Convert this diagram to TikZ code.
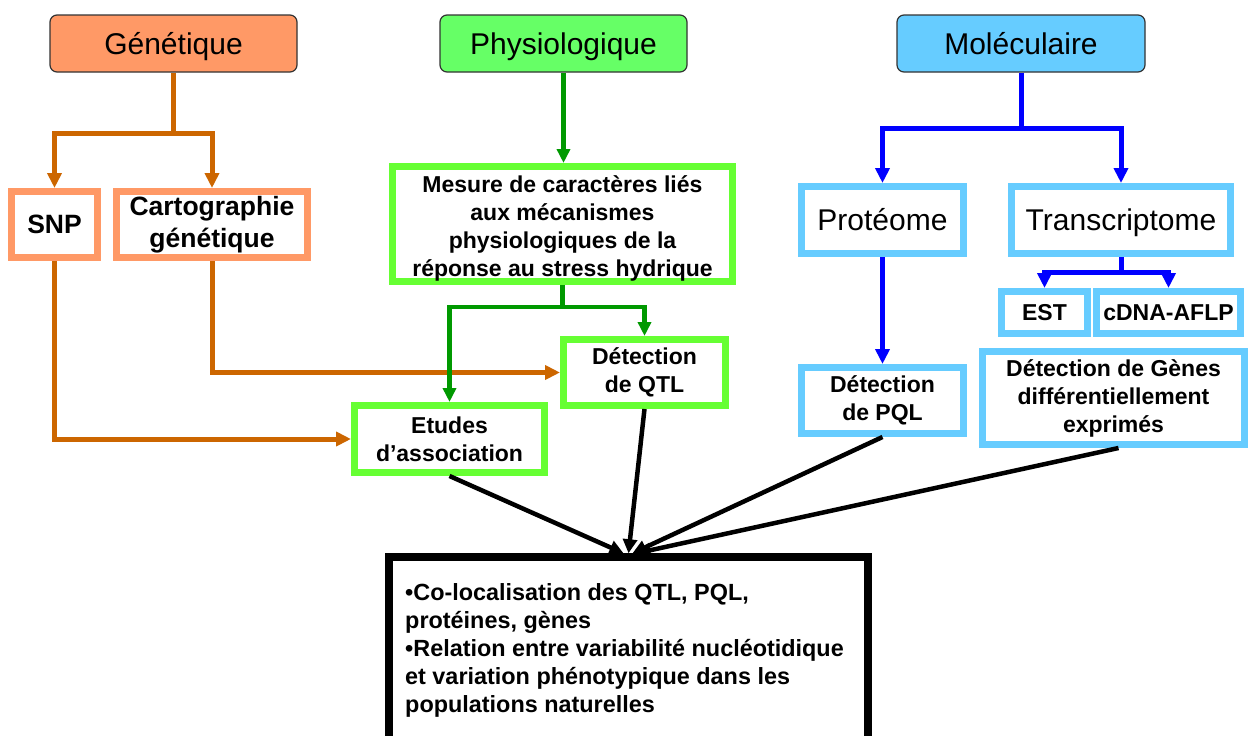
\documentclass[tikz,border=0pt]{standalone}
\usepackage{fontspec}
\setmainfont{Liberation Sans}
\usetikzlibrary{arrows.meta}
\definecolor{orfill}{HTML}{FF9966}
\definecolor{orline}{HTML}{CC6600}
\definecolor{grfill}{HTML}{66FF66}
\definecolor{grbd}{HTML}{66FF33}
\definecolor{grline}{HTML}{009900}
\definecolor{blfill}{HTML}{66CCFF}
\definecolor{blline}{HTML}{0000FF}
\begin{document}
\begin{tikzpicture}[x=1pt,y=-1pt,
  hdr/.style={draw=black!80, line width=1.2pt, rounded corners=7pt, inner sep=0pt,
              text height=22pt, text depth=0pt,
              font=\fontsize{30}{36}\selectfont},
  boxbase/.style={line width=7pt, fill=white, inner sep=0pt, align=center},
  obox/.style={boxbase, draw=orfill, font=\bfseries\fontsize{26.5}{32}\selectfont},
  gbox/.style={boxbase, draw=grbd, font=\bfseries\fontsize{23}{28}\selectfont},
  bboxr/.style={boxbase, draw=blfill, text height=21pt, text depth=0pt, font=\fontsize{30}{36}\selectfont},
  bbox/.style={boxbase, draw=blfill, font=\bfseries\fontsize{23}{28}\selectfont},
  rbox/.style={draw=black, line width=7.5pt, fill=white, inner sep=0pt},
  txt/.style={inner sep=0pt, font=\bfseries\fontsize{23.4}{28.2}\selectfont},
  oline/.style={draw=orline, line width=5pt},
  oarr/.style={oline, -{Triangle[length=15pt,width=14pt]}},
  gline/.style={draw=grline, line width=4.5pt},
  garr/.style={gline, -{Triangle[length=14pt,width=13pt]}},
  bline/.style={draw=blline, line width=5pt},
  barr/.style={bline, -{Triangle[length=15pt,width=14pt]}},
  karr/.style={draw=black, line width=4.5pt, -{Triangle[length=14pt,width=14pt]}}
]
\fill[white] (0,0) rectangle (1248,736);
\useasboundingbox (0,0) rectangle (1248,736);

% headers
\node[hdr, fill=orfill, minimum width=247pt, minimum height=57pt] (gen) at (173.5,43.5) {Génétique};
\node[hdr, fill=grfill, minimum width=247pt, minimum height=57pt] (phy) at (563.5,43.5) {Physiologique};
\node[hdr, fill=blfill, minimum width=248pt, minimum height=57pt] (mol) at (1021,43.5) {Moléculaire};

% genetic boxes
\node[obox, minimum width=86pt, minimum height=66pt] (snp) at (54.5,224.5) {SNP};
\node[obox, minimum width=191pt, minimum height=66pt] (carto) at (212,224.5) {Cartographie\\génétique};

% physiological boxes
\node[gbox, minimum width=340pt, minimum height=115pt] (mes) at (562.5,224) {};
\node[txt, font=\bfseries\fontsize{23}{28}\selectfont, align=center] (mest) at (562.5,228)
  {Mesure de caractères liés\\aux mécanismes\\physiologiques de la\\réponse au stress hydrique};
\node[gbox, minimum width=162pt, minimum height=66pt] (qtl) at (644.5,372.5) {Détection\\de QTL};
\node[gbox, minimum width=190pt, minimum height=67pt] (etu) at (449.5,439) {Etudes\\d’association};

% molecular boxes
\node[bboxr, minimum width=162pt, minimum height=67pt] (prot) at (882.5,220) {Protéome};
\node[bboxr, minimum width=219pt, minimum height=67pt] (trans) at (1121,220) {Transcriptome};
\node[bbox, minimum width=86pt, minimum height=42pt] (est) at (1044.5,312.5) {EST};
\node[bbox, minimum width=144pt, minimum height=42pt] (cdna) at (1168.5,312.5) {cDNA-AFLP};
\node[bbox, minimum width=262pt, minimum height=93pt] (genes) at (1113.5,398) {Détection de Gènes\\différentiellement\\exprimés};
\node[bbox, minimum width=162pt, minimum height=66pt] (pql) at (882.5,400.5) {Détection\\de PQL};

% result box
\node[rbox, minimum width=479pt, minimum height=184pt] (res) at (628.5,649) {};
\node[txt, anchor=north west, align=left] (rest) at (405,583)
  {•Co-localisation des QTL, PQL,\\protéines, gènes\\•Relation entre variabilité nucléotidique\\et variation phénotypique dans les\\populations naturelles};

% orange connectors
\coordinate (gj) at (173.5,133);
\draw[oline] (gen.south) -- (gj);
\draw[oarr] (gj) -| (snp.north);
\draw[oarr] (gj) -| (carto.north);
\draw[oarr] (snp.south) |- (etu.west);
\draw[oarr] (carto.south) |- (qtl.west);

% green connectors
\draw[garr] (phy.south) -- (phy.south |- mes.north);
\coordinate (mj) at (562.5,307);
\draw[gline] (mes.south) -- (mj);
\draw[garr] (mj) -| (etu.north);
\draw[garr] (mj) -| (qtl.north);

% blue connectors
\coordinate (mo) at (1021,128);
\draw[bline] (mol.south) -- (mo);
\draw[barr] (mo) -| (prot.north);
\draw[barr] (mo) -| (trans.north);
\draw[barr] (prot.south) -- (pql.north);
\coordinate (tj) at (1121,272);
\draw[bline] (trans.south) -- (tj);
\draw[barr] (tj) -| (est.north);
\draw[barr] (tj) -| (cdna.north);

% black connectors
\draw[karr] (etu.south) -- ([xshift=-5pt]res.north);
\draw[karr] (qtl.south) -- ([xshift=0pt]res.north);
\draw[karr] (pql.south) -- ([xshift=4pt]res.north);
\draw[karr] ([xshift=5pt]genes.south) -- ([xshift=8pt]res.north);
\end{tikzpicture}
\end{document}
